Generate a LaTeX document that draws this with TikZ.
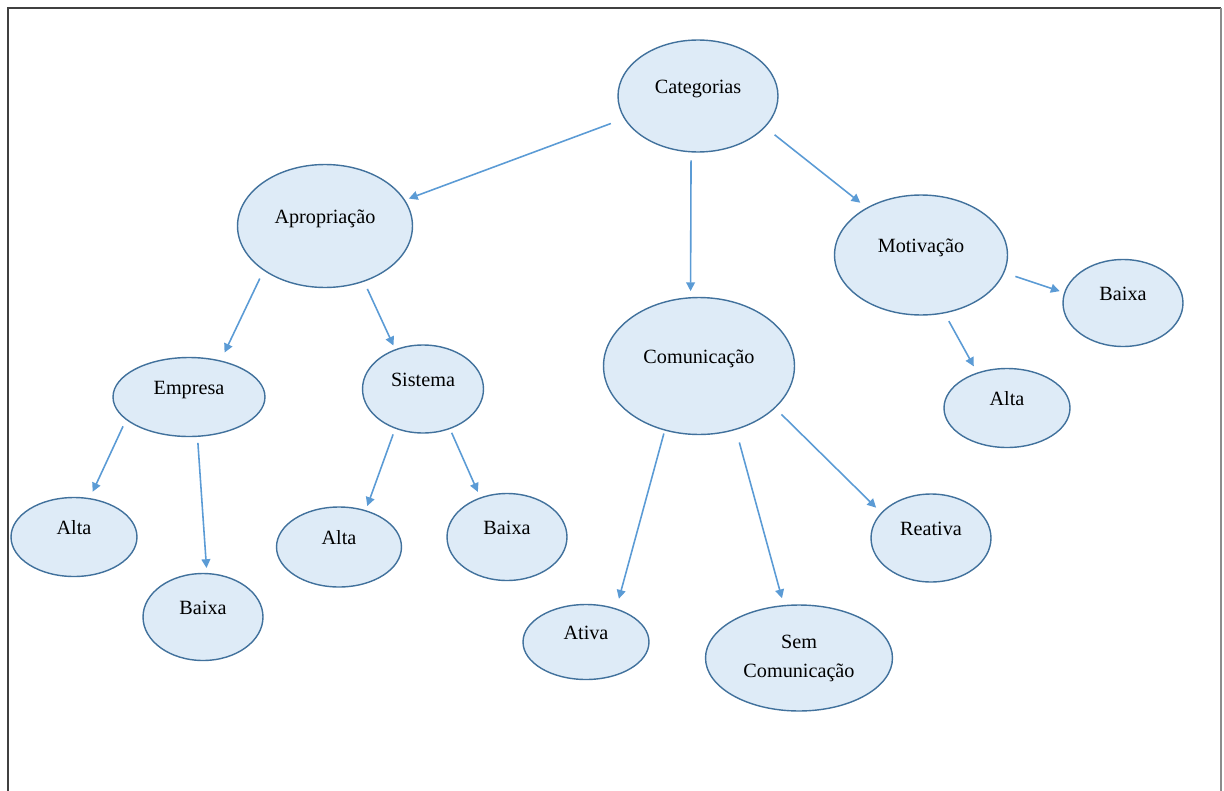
\documentclass[tikz,border=0pt]{standalone}
\usepackage{fontspec}
\setmainfont{Liberation Serif}
\usetikzlibrary{shapes.geometric, arrows.meta}
\definecolor{bubblefill}{HTML}{DEEBF7}
\definecolor{bubbleline}{HTML}{41719C}
\definecolor{linkblue}{HTML}{5B9BD5}
\tikzset{
	bubble/.style = {draw=bubbleline, fill=bubblefill, ellipse, line width=0.8pt, inner sep=0pt, font=\fontsize{11.5}{16.5}\selectfont},
	word/.style   = {bubble, text height=8pt, text depth=11pt},
	link/.style   = {draw=linkblue, line width=0.9pt, -{Triangle[length=5pt, width=5pt]}},
	frame/.style  = {draw=black!75, line width=1.2pt},
}

\begin{document}
\begin{tikzpicture}[x=0.02cm, y=-0.02cm]
	\useasboundingbox (0,0) rectangle (1224,791);
	% Draw the outer frame
	\draw[frame] (8,791) -- (8,8) -- (1221,8);
	\draw[frame, draw=black!45, line width=0.8pt] (1221,8) -- (1221,791);

	% Draw the category nodes
	\draw
		node[word, minimum width=3.2cm , minimum height=2.24cm] (cat)  at (698,96)  {Categorias}
		node[word, minimum width=3.5cm , minimum height=2.46cm] (apro) at (325,226) {Apropriação}
		node[word, minimum width=3.82cm, minimum height=2.74cm] (com)  at (699,366) {Comunicação}
		node[word, minimum width=3.46cm, minimum height=2.4cm ] (mot)  at (921,255) {Motivação};

	% Draw the nodes under Apropriação
	\draw
		node[word, minimum width=3.04cm, minimum height=1.58cm] (emp)    at (189,397) {Empresa}
		node[word, minimum width=2.42cm, minimum height=1.76cm] (sis)    at (423,389) {Sistema}
		node[word, minimum width=2.52cm, minimum height=1.58cm] (empalta)  at (74,537)  {Alta}
		node[word, minimum width=2.4cm , minimum height=1.74cm] (empbaixa) at (203,617) {Baixa}
		node[word, minimum width=2.5cm , minimum height=1.6cm ] (sisalta)  at (339,547) {Alta}
		node[word, minimum width=2.4cm , minimum height=1.74cm] (sisbaixa) at (507,537) {Baixa};

	% Draw the nodes under Comunicação and Motivação
	\draw
		node[word, minimum width=2.52cm, minimum height=1.5cm ] (ativa) at (586,642) {Ativa}
		node[bubble, minimum width=3.74cm, minimum height=2.12cm, align=center] (sem) at (799,658) {Sem\\Comunicação}
		node[word, minimum width=2.4cm , minimum height=1.76cm] (reat)  at (931,538) {Reativa}
		node[word, minimum width=2.4cm , minimum height=1.74cm] (motbaixa) at (1123,303) {Baixa}
		node[word, minimum width=2.52cm, minimum height=1.58cm] (motalta)  at (1007,408) {Alta};

	% Connect everything together
	\draw[link, shorten <=8pt  , shorten >=2.3pt] (cat.197) -- (apro.18);
	\draw[link, shorten <=4.5pt, shorten >=3.4pt] (cat.263) -- (com.97);
	\draw[link, shorten <=6.8pt, shorten >=4.5pt] (cat.335) -- (mot.139);

	\draw[link, shorten <=5pt  , shorten >=5pt  ] (apro.216) -- (emp.49);
	\draw[link, shorten <=4.5pt, shorten >=2.3pt] (apro.305) -- (sis.125);
	\draw[link, shorten <=4pt  , shorten >=4pt  ] (emp.200) -- (empalta.68);
	\draw[link, shorten <=3.4pt, shorten >=2.8pt] (emp.282) -- (empbaixa.85);
	\draw[link, shorten <=3.4pt, shorten >=2.5pt] (sis.235) -- (sisalta.54);
	\draw[link, shorten <=2.3pt, shorten >=3.4pt] (sis.304) -- (sisbaixa.124);

	\draw[link, shorten <=1.7pt, shorten >=5.7pt] (com.242) -- (ativa.48);
	\draw[link, shorten <=7.4pt, shorten >=4pt  ] (com.300) -- (sem.106);
	\draw[link, shorten <=5pt  , shorten >=4pt  ] (com.331) -- (reat.153);

	\draw[link, shorten <=6.6pt, shorten >=2.6pt] (mot.348) -- (motbaixa.170);
	\draw[link, shorten <=5pt  , shorten >=4pt  ] (mot.292) -- (motalta.130);
\end{tikzpicture}
\end{document}
